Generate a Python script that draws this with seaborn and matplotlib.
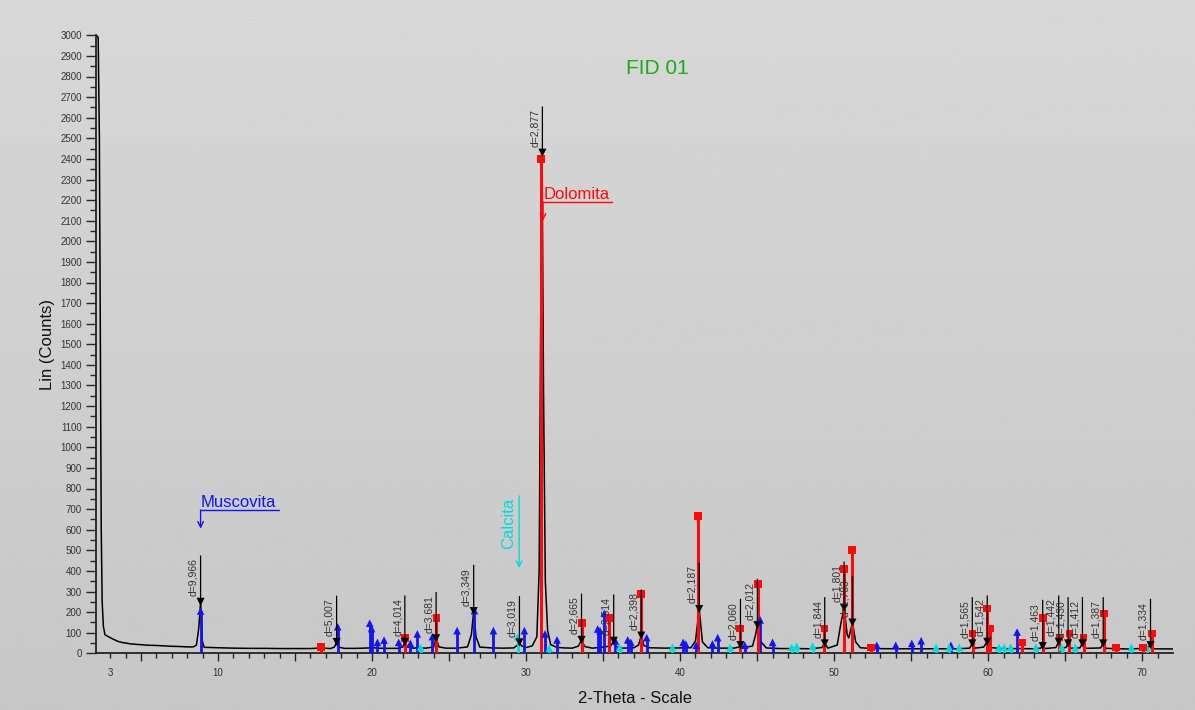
import numpy as np
import seaborn as sns
import matplotlib.pyplot as plt

two_theta = [2.10, 2.22, 2.30, 2.36, 2.42, 2.48, 2.56, 2.66, 2.90, 3.10, 3.30, 3.50, 3.80, 4.00,
             4.30, 4.60, 5.00, 5.50, 6.00, 6.50, 7.00, 7.50, 8.00, 8.40, 8.60, 8.75, 8.87, 8.98,
             9.10, 9.50, 10.0, 11.0, 12.0, 13.0, 14.0, 15.0, 16.0, 16.7, 17.3, 17.55, 17.70,
             17.85, 18.2, 19.0, 19.8, 20.0, 20.3, 21.0, 21.7, 22.0, 22.13, 22.3, 22.7, 23.0,
             23.5, 24.0, 24.16, 24.35, 24.8, 25.5, 26.2, 26.45, 26.60, 26.75, 27.0, 27.8, 28.5,
             29.2, 29.45, 29.57, 29.7, 30.0, 30.4, 30.7, 30.85, 30.95, 31.04, 31.13, 31.25, 31.4,
             31.6, 32.0, 32.5, 33.0, 33.4, 33.6, 33.8, 34.3, 34.8, 35.1, 35.5, 35.69, 35.85,
             36.3, 37.0, 37.3, 37.48, 37.65, 38.0, 39.0, 40.0, 40.7, 41.0, 41.24, 41.45, 41.8,
             42.5, 43.5, 43.8, 43.92, 44.1, 44.7, 44.9, 45.02, 45.2, 45.6, 46.5, 47.5, 48.5,
             49.2, 49.39, 49.6, 50.2, 50.45, 50.65, 50.85, 50.95, 51.19, 51.4, 51.7, 52.5, 54.0,
             56.0, 58.0, 58.8, 58.97, 59.15, 59.7, 59.94, 60.15, 61.0, 62.0, 63.0, 63.4, 63.54,
             63.7, 64.4, 64.58, 64.75, 65.05, 65.19, 65.35, 65.95, 66.12, 66.3, 67.3, 67.47,
             67.65, 69.0, 70.3, 70.54, 70.75, 72.0]
counts = [3000, 2990, 2500, 1500, 600, 250, 130, 90, 80, 72, 65, 58, 52, 50,
          46, 44, 42, 39, 38, 36, 34, 33, 31, 31, 40, 120, 248, 60,
          29, 28, 27, 25, 24, 24, 23, 23, 23, 26, 23, 30, 52,
          30, 24, 24, 26, 29, 25, 24, 24, 31, 52, 30, 25, 27,
          25, 31, 72, 31, 25, 25, 31, 90, 205, 80, 30, 26, 25,
          26, 40, 52, 36, 28, 36, 80, 400, 1600, 2430, 1300, 350, 110,
          42, 29, 26, 25, 35, 65, 33, 25, 29, 31, 36, 60, 33,
          25, 27, 40, 86, 38, 27, 25, 26, 27, 60, 215, 55, 27,
          25, 25, 30, 40, 28, 35, 90, 137, 60, 26, 23, 23, 22,
          28, 48, 25, 40, 150, 221, 90, 75, 149, 55, 27, 23, 22,
          22, 22, 25, 48, 25, 30, 56, 28, 22, 23, 22, 25, 35,
          23, 28, 56, 26, 28, 48, 25, 26, 48, 24, 26, 48,
          24, 21, 24, 40, 22, 21]

# reference sticks per phase
dol_2theta = [16.69, 22.14, 24.18, 30.97, 33.65, 35.41, 37.47, 41.17, 43.90, 45.06, 49.37, 50.63,
              51.17, 52.40, 58.99, 59.94, 60.13, 62.19, 63.57, 64.63, 65.28, 66.19, 67.53, 68.29,
              70.04, 70.63]
dol_counts = [30, 75, 170, 2400, 147, 170, 288, 667, 121, 336, 121, 408,
              502, 29, 97, 218, 121, 53, 170, 76, 97, 76, 194, 29,
              29, 97]

mus_2theta = [8.87, 17.77, 19.85, 19.97, 20.35, 20.78, 21.73, 22.49, 22.94, 23.92, 25.52, 26.65,
              27.88, 29.89, 31.23, 32.01, 34.65, 34.80, 35.08, 35.80, 36.60, 36.80, 37.83, 40.20,
              40.37, 41.04, 42.10, 42.44, 44.20, 45.20, 46.00, 52.77, 54.00, 55.04, 55.65, 57.58,
              61.88]
mus_counts = [205, 129, 146, 120, 53, 64, 53, 48, 94, 81, 110, 207,
              110, 110, 94, 65, 118, 110, 194, 60, 65, 53, 76, 53,
              45, 39, 45, 76, 39, 162, 53, 39, 39, 48, 61, 39,
              103]

cal_2theta = [23.15, 29.45, 31.50, 36.08, 39.50, 43.25, 47.25, 47.57, 48.60, 56.62, 57.47, 58.12,
              60.70, 61.04, 61.46, 63.10, 64.77, 65.65, 69.30, 70.29]
cal_counts = [29, 80, 24, 29, 29, 29, 29, 35, 35, 29, 29, 29,
              29, 29, 29, 29, 29, 29, 29, 29]

# peaks picked on the scan
d_2theta = [8.87, 17.70, 22.13, 24.16, 26.60, 29.57, 31.06, 33.60, 35.69, 37.48, 41.24, 43.92,
            45.02, 49.39, 50.65, 51.19, 58.97, 59.94, 63.54, 64.58, 65.19, 66.12, 67.47, 70.54]
d_counts = [250, 55, 56, 73, 205, 53, 2430, 65, 61, 86, 215, 40,
            137, 48, 221, 149, 48, 56, 35, 56, 48, 48, 48, 40]
d_labels = ['d=9,966', 'd=5,007', 'd=4,014', 'd=3,681', 'd=3,349', 'd=3,019', 'd=2,877',
            'd=2,665', 'd=2,514', 'd=2,398', 'd=2,187', 'd=2,060', 'd=2,012', 'd=1,844',
            'd=1,801', 'd=1,783', 'd=1,565', 'd=1,542', 'd=1,463', 'd=1,442', 'd=1,430',
            'd=1,412', 'd=1,387', 'd=1,334']

RED = '#ff0a0a'
BLUE = '#1414f0'
CYAN = '#00dcdc'

sns.set_style("ticks")
plt.rcParams['font.family'] = ['Liberation Sans', 'DejaVu Sans']

fig = plt.figure(figsize=(11.95, 7.10), dpi=100)

# grey gradient behind everything
bg = fig.add_axes([0, 0, 1, 1])
bg.imshow(np.linspace(0.845, 0.78, 256).reshape(-1, 1), aspect='auto', cmap='gray',
          vmin=0, vmax=1, extent=[0, 1, 0, 1])
bg.set_axis_off()

ax = fig.add_axes([96 / 1195, 1 - 653.3 / 710, (1173 - 96) / 1195, (653.3 - 35.3) / 710])
ax.set_facecolor('none')

sns.lineplot(x=two_theta, y=counts, ax=ax, color='black', lw=1.1, estimator=None,
             sort=False, zorder=2)

# phase sticks
for xs, ys, col, mk, lw in [(mus_2theta, mus_counts, BLUE, '^', 2.0),
                            (cal_2theta, cal_counts, CYAN, '^', 2.0),
                            (dol_2theta, dol_counts, RED, 's', 2.2)]:
    ax.vlines(xs, 0, ys, color=col, lw=lw, zorder=3)
    sns.scatterplot(x=xs, y=ys, ax=ax, marker=mk, s=30, color=col, edgecolor='none',
                    zorder=4, legend=False)

# peak markers + d labels
sns.scatterplot(x=d_2theta, y=d_counts, ax=ax, marker='v', s=34, color='black',
                edgecolor='none', zorder=5, legend=False)
for x, y, lab in zip(d_2theta, d_counts, d_labels):
    ax.annotate('', xy=(x, y), xytext=(0, 33), textcoords='offset points',
                arrowprops=dict(arrowstyle='-', color='black', lw=0.9, shrinkA=0, shrinkB=0),
                zorder=5)
    ax.annotate(lab, xy=(x, y), xytext=(-1.5, 4), textcoords='offset points', rotation=90,
                ha='right', va='bottom', fontsize=7.5, color='#333333', zorder=5)

# phase names
ax.text(8.9, 696, 'Muscovita', color=BLUE, fontsize=12, ha='left', va='bottom')
ax.plot([8.87, 13.95], [696, 696], color=BLUE, lw=1)
ax.annotate('', xy=(8.87, 605), xytext=(8.87, 696),
            arrowprops=dict(arrowstyle='->', color=BLUE, lw=1, shrinkA=0, shrinkB=0))

ax.text(31.15, 2191, 'Dolomita', color=RED, fontsize=12, ha='left', va='bottom', zorder=6)
ax.plot([31.1, 35.58], [2191, 2191], color=RED, lw=1, zorder=6)
ax.annotate('', xy=(31.1, 2100), xytext=(31.1, 2191),
            arrowprops=dict(arrowstyle='->', color=RED, lw=1, shrinkA=0, shrinkB=0))

ax.annotate('Calcita', xy=(29.55, 764), xytext=(-2.5, -1), textcoords='offset points',
            rotation=90, ha='right', va='top', fontsize=12, color=CYAN)
ax.annotate('', xy=(29.55, 414), xytext=(29.55, 764),
            arrowprops=dict(arrowstyle='->', color=CYAN, lw=1, shrinkA=0, shrinkB=0))

fig.text(657 / 1195, 1 - 68 / 710, 'FID 01', color='#1aaa1a', fontsize=15,
         ha='center', va='center')

# axes
ax.set_xlim(2.08, 72.0)
ax.set_ylim(0, 3000)
major_x = list(range(5, 71, 5))
ax.set_xticks(major_x, [str(v) if v % 10 == 0 else '' for v in major_x])
minor_x = [v for v in range(3, 72) if v % 5 != 0]
ax.set_xticks(minor_x, ['3' if v == 3 else '' for v in minor_x], minor=True)
ax.set_yticks(range(0, 3001, 100))
ax.set_yticks(range(50, 3000, 100), minor=True)

ax.tick_params(axis='x', which='major', length=5.8, width=1, pad=5, labelsize=7,
               labelcolor='#333333')
ax.tick_params(axis='x', which='minor', length=3.6, width=1, pad=7.2, labelsize=7,
               labelcolor='#333333')
ax.tick_params(axis='y', which='major', length=7.2, width=1, pad=3, labelsize=7,
               labelcolor='#333333')
ax.tick_params(axis='y', which='minor', length=4.3, width=1)

for s in ['top', 'right']:
    ax.spines[s].set_visible(False)
for s in ['left', 'bottom']:
    ax.spines[s].set_linewidth(1.3)
    ax.spines[s].set_color('#222222')

ax.set_xlabel('2-Theta - Scale', fontsize=12, labelpad=9, color='#111111')
ax.set_ylabel('Lin (Counts)', fontsize=12, labelpad=4, color='#111111')

fig.savefig('out.png', dpi=100)
